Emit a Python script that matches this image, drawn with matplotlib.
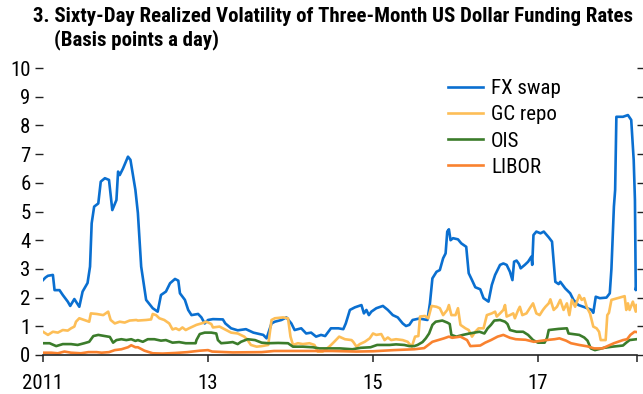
import matplotlib
matplotlib.use("Agg")
import matplotlib.pyplot as plt
from matplotlib import font_manager

# Condensed face for the text, falling back to a regular sans
names = {f.name for f in font_manager.fontManager.ttflist}
family = [n for n in ["Liberation Sans Narrow", "Roboto Condensed", "Liberation Sans"] if n in names] + ["DejaVu Sans"]
plt.rcParams["font.family"] = family

# ---- data (decimal years, basis points a day) ----
fx_t = [2011.00, 2011.03, 2011.06, 2011.12, 2011.14, 2011.20, 2011.24, 2011.30, 2011.33, 2011.38,
        2011.44, 2011.48, 2011.54, 2011.57, 2011.59, 2011.62, 2011.67, 2011.70, 2011.75, 2011.80,
        2011.84, 2011.89, 2011.91, 2011.93, 2011.97, 2012.03, 2012.06, 2012.12, 2012.15, 2012.19,
        2012.25, 2012.33, 2012.39, 2012.43, 2012.49, 2012.54, 2012.60, 2012.64, 2012.66, 2012.72,
        2012.76, 2012.80, 2012.88, 2012.92, 2012.96, 2013.00, 2013.06, 2013.18, 2013.21, 2013.28,
        2013.36, 2013.46, 2013.55, 2013.67, 2013.71, 2013.77, 2013.81, 2013.89, 2013.95, 2014.01,
        2014.05, 2014.13, 2014.19, 2014.25, 2014.31, 2014.37, 2014.42, 2014.49, 2014.58, 2014.64,
        2014.67, 2014.72, 2014.78, 2014.86, 2014.89, 2014.92, 2014.95, 2014.98, 2015.04, 2015.12,
        2015.18, 2015.24, 2015.30, 2015.36, 2015.40, 2015.44, 2015.48, 2015.56, 2015.66, 2015.69,
        2015.72, 2015.77, 2015.81, 2015.85, 2015.88, 2015.90, 2015.92, 2015.94, 2015.97, 2016.03,
        2016.07, 2016.13, 2016.16, 2016.20, 2016.24, 2016.30, 2016.34, 2016.40, 2016.44, 2016.48,
        2016.54, 2016.58, 2016.62, 2016.66, 2016.69, 2016.71, 2016.74, 2016.77, 2016.79, 2016.84,
        2016.88, 2016.92, 2016.93, 2016.945, 2016.98, 2017.03, 2017.07, 2017.13, 2017.17, 2017.19,
        2017.21, 2017.25, 2017.27, 2017.33, 2017.39, 2017.43, 2017.49, 2017.57, 2017.65, 2017.67,
        2017.70, 2017.75, 2017.83, 2017.87, 2017.89, 2017.92, 2017.935, 2017.95, 2018.03, 2018.09,
        2018.13, 2018.16, 2018.175, 2018.185, 2018.195]
fx_v = [2.61, 2.70, 2.76, 2.79, 2.26, 2.26, 2.09, 1.86, 1.71, 1.95,
        1.68, 2.21, 2.51, 3.08, 4.59, 5.17, 5.28, 6.04, 6.16, 6.10,
        5.05, 5.40, 6.39, 6.27, 6.50, 6.91, 6.80, 5.75, 4.95, 3.08,
        1.92, 1.63, 1.51, 2.09, 2.21, 2.50, 2.65, 2.59, 2.15, 1.92,
        1.57, 1.39, 1.43, 1.31, 1.10, 1.22, 1.25, 1.24, 1.10, 0.93,
        0.86, 0.90, 0.78, 0.70, 0.58, 1.10, 1.16, 1.22, 1.31, 1.10,
        0.87, 0.93, 0.75, 0.78, 0.64, 0.70, 0.66, 0.93, 0.93, 0.90,
        1.10, 1.57, 1.66, 1.74, 1.45, 1.57, 1.39, 1.51, 1.63, 1.71,
        1.57, 1.39, 1.31, 1.10, 1.01, 1.05, 1.22, 1.27, 1.22, 1.80,
        2.67, 2.90, 2.96, 3.37, 3.54, 4.30, 4.38, 4.00, 4.07, 4.03,
        3.89, 3.77, 2.85, 2.61, 2.36, 2.29, 1.98, 1.86, 2.44, 2.79,
        3.14, 3.19, 3.14, 2.90, 2.61, 3.25, 3.29, 3.17, 3.02, 3.14,
        3.25, 3.43, 3.14, 4.18, 4.30, 4.24, 4.30, 4.10, 3.95, 3.25,
        2.55, 2.47, 2.55, 2.32, 2.15, 1.92, 1.74, 1.66, 1.57, 1.47,
        2.03, 1.98, 2.00, 2.15, 3.00, 5.17, 5.75, 8.30, 8.30, 8.36,
        8.19, 6.79, 5.40, 2.26, 2.44]

repo_t = [2011.00, 2011.06, 2011.12, 2011.18, 2011.24, 2011.30, 2011.34, 2011.38, 2011.40, 2011.44,
          2011.50, 2011.56, 2011.58, 2011.65, 2011.73, 2011.79, 2011.82, 2011.87, 2011.93, 2011.99,
          2012.05, 2012.13, 2012.15, 2012.25, 2012.31, 2012.33, 2012.37, 2012.41, 2012.47, 2012.53,
          2012.57, 2012.61, 2012.65, 2012.69, 2012.73, 2012.77, 2012.86, 2012.92, 2012.98, 2013.04,
          2013.06, 2013.14, 2013.22, 2013.28, 2013.36, 2013.44, 2013.48, 2013.52, 2013.59, 2013.65,
          2013.73, 2013.77, 2013.81, 2013.91, 2013.97, 2014.00, 2014.03, 2014.09, 2014.15, 2014.23,
          2014.29, 2014.33, 2014.39, 2014.43, 2014.47, 2014.53, 2014.59, 2014.66, 2014.74, 2014.76,
          2014.80, 2014.84, 2014.90, 2014.96, 2015.00, 2015.04, 2015.10, 2015.14, 2015.18, 2015.22,
          2015.28, 2015.36, 2015.42, 2015.47, 2015.51, 2015.55, 2015.57, 2015.63, 2015.67, 2015.71,
          2015.77, 2015.81, 2015.85, 2015.90, 2015.92, 2015.95, 2016.00, 2016.03, 2016.06, 2016.12,
          2016.16, 2016.20, 2016.24, 2016.28, 2016.34, 2016.38, 2016.44, 2016.48, 2016.50, 2016.54,
          2016.58, 2016.60, 2016.62, 2016.66, 2016.70, 2016.72, 2016.76, 2016.78, 2016.81, 2016.86,
          2016.90, 2016.94, 2016.98, 2017.02, 2017.06, 2017.09, 2017.13, 2017.15, 2017.19, 2017.23,
          2017.27, 2017.31, 2017.35, 2017.38, 2017.41, 2017.45, 2017.50, 2017.53, 2017.56, 2017.59,
          2017.63, 2017.67, 2017.71, 2017.74, 2017.76, 2017.82, 2017.84, 2017.86, 2017.89, 2017.99,
          2018.05, 2018.07, 2018.09, 2018.11, 2018.15, 2018.185, 2018.195]
repo_v = [0.81, 0.70, 0.81, 0.78, 0.87, 0.85, 0.93, 0.99, 1.16, 1.28,
          1.22, 1.16, 1.45, 1.43, 1.39, 1.51, 1.22, 1.10, 1.16, 1.13,
          1.20, 1.22, 1.20, 1.22, 1.24, 1.43, 1.39, 1.28, 1.22, 1.10,
          0.89, 0.93, 0.87, 0.96, 0.87, 0.93, 1.05, 1.10, 1.16, 1.08,
          0.96, 0.99, 0.87, 0.78, 0.75, 0.64, 0.52, 0.35, 0.29, 0.31,
          0.35, 1.22, 1.28, 1.31, 1.28, 0.64, 0.35, 0.41, 0.38, 0.41,
          0.35, 0.12, 0.12, 0.20, 0.29, 0.46, 0.64, 0.55, 0.52, 0.46,
          0.29, 0.38, 0.46, 0.58, 0.75, 0.70, 0.73, 0.52, 0.61, 0.52,
          0.55, 0.52, 0.46, 0.29, 0.64, 0.66, 1.34, 1.36, 1.28, 1.71,
          1.68, 1.63, 1.39, 1.57, 1.74, 1.39, 1.39, 1.63, 1.05, 0.93,
          0.87, 0.64, 0.81, 0.93, 0.93, 1.39, 1.45, 1.51, 1.34, 1.45,
          1.57, 1.74, 1.34, 1.39, 1.45, 1.28, 1.57, 1.68, 1.39, 1.45,
          1.63, 1.80, 1.45, 1.39, 1.57, 1.68, 1.80, 1.94, 1.57, 1.68,
          1.92, 1.57, 1.80, 1.39, 1.92, 1.68, 2.09, 1.92, 1.98, 1.68,
          1.45, 0.99, 0.93, 0.81, 0.52, 0.52, 1.39, 1.47, 1.92, 2.00,
          2.05, 1.57, 1.80, 1.57, 1.86, 1.51, 1.74]

ois_t = [2011.00, 2011.08, 2011.16, 2011.24, 2011.34, 2011.42, 2011.50, 2011.56, 2011.61, 2011.67,
         2011.75, 2011.81, 2011.85, 2011.89, 2011.95, 2012.01, 2012.07, 2012.12, 2012.15, 2012.21,
         2012.27, 2012.35, 2012.43, 2012.49, 2012.57, 2012.65, 2012.73, 2012.85, 2012.86, 2012.90,
         2012.96, 2013.04, 2013.10, 2013.12, 2013.16, 2013.24, 2013.30, 2013.36, 2013.40, 2013.48,
         2013.57, 2013.65, 2013.73, 2013.85, 2013.97, 2014.03, 2014.15, 2014.27, 2014.35, 2014.50,
         2014.60, 2014.75, 2014.85, 2014.97, 2015.05, 2015.20, 2015.28, 2015.38, 2015.44, 2015.50,
         2015.54, 2015.60, 2015.64, 2015.68, 2015.72, 2015.76, 2015.84, 2015.90, 2015.93, 2015.95,
         2016.01, 2016.09, 2016.17, 2016.29, 2016.35, 2016.39, 2016.43, 2016.47, 2016.54, 2016.60,
         2016.63, 2016.66, 2016.74, 2016.82, 2016.88, 2016.94, 2017.00, 2017.08, 2017.11, 2017.13,
         2017.25, 2017.35, 2017.37, 2017.50, 2017.56, 2017.60, 2017.64, 2017.69, 2017.80, 2017.90,
         2018.03, 2018.07, 2018.11, 2018.195]
ois_v = [0.41, 0.41, 0.31, 0.38, 0.38, 0.35, 0.41, 0.46, 0.66, 0.70,
         0.66, 0.63, 0.43, 0.52, 0.55, 0.52, 0.55, 0.49, 0.52, 0.46,
         0.55, 0.55, 0.50, 0.52, 0.43, 0.45, 0.41, 0.41, 0.52, 0.73,
         0.78, 0.78, 0.75, 0.52, 0.41, 0.43, 0.45, 0.38, 0.46, 0.55,
         0.52, 0.43, 0.41, 0.42, 0.41, 0.29, 0.29, 0.27, 0.23, 0.23,
         0.23, 0.20, 0.25, 0.27, 0.35, 0.35, 0.37, 0.35, 0.31, 0.31,
         0.35, 0.45, 0.58, 0.75, 1.05, 1.16, 1.20, 1.13, 1.08, 0.70,
         0.64, 0.70, 0.75, 0.81, 0.75, 0.93, 1.05, 1.20, 1.22, 1.16,
         1.08, 0.87, 0.81, 0.81, 0.70, 0.52, 0.43, 0.43, 0.60, 0.87,
         0.91, 0.93, 0.75, 0.70, 0.61, 0.50, 0.23, 0.17, 0.25, 0.29,
         0.33, 0.43, 0.52, 0.55]

libor_t = [2011.00, 2011.10, 2011.18, 2011.26, 2011.34, 2011.46, 2011.55, 2011.65, 2011.71, 2011.80,
           2011.87, 2011.95, 2012.03, 2012.07, 2012.12, 2012.15, 2012.23, 2012.33, 2012.45, 2012.60,
           2012.75, 2012.90, 2013.00, 2013.05, 2013.30, 2013.65, 2013.80, 2014.10, 2014.50, 2014.80,
           2015.00, 2015.25, 2015.50, 2015.62, 2015.67, 2015.72, 2015.86, 2015.92, 2015.96, 2016.06,
           2016.14, 2016.18, 2016.30, 2016.36, 2016.43, 2016.51, 2016.58, 2016.66, 2016.73, 2016.85,
           2016.95, 2017.10, 2017.20, 2017.26, 2017.34, 2017.40, 2017.50, 2017.60, 2017.68, 2017.78,
           2017.92, 2018.03, 2018.08, 2018.12, 2018.17, 2018.195]
libor_v = [0.08, 0.08, 0.06, 0.12, 0.08, 0.06, 0.10, 0.10, 0.08, 0.10,
           0.17, 0.20, 0.27, 0.34, 0.27, 0.27, 0.15, 0.06, 0.05, 0.07,
           0.10, 0.15, 0.17, 0.12, 0.09, 0.10, 0.14, 0.14, 0.14, 0.12,
           0.13, 0.17, 0.20, 0.24, 0.35, 0.46, 0.58, 0.64, 0.60, 0.64,
           0.52, 0.31, 0.33, 0.43, 0.52, 0.64, 0.70, 0.60, 0.55, 0.53,
           0.46, 0.52, 0.55, 0.58, 0.50, 0.41, 0.35, 0.30, 0.23, 0.23,
           0.41, 0.52, 0.55, 0.70, 0.81, 0.80]

series_names = ["FX swap", "GC repo", "OIS", "LIBOR"]
series_colors = ["#0A6FD0", "#FDBE57", "#3B7C2B", "#F9822F"]

xtick_pos = [2011, 2013, 2015, 2017]
xtick_labels = ["2011", "13", "15", "17"]
ytick_pos = list(range(0, 11))

# ---- figure ----
W, H = 643, 394
fig = plt.figure(figsize=(W / 100, H / 100), dpi=100)
ax = fig.add_axes([43 / W, 1 - 355 / H, (637 - 43) / W, (355 - 68) / H])

for (t, v), name, col in zip([(fx_t, fx_v), (repo_t, repo_v), (ois_t, ois_v), (libor_t, libor_v)],
                             series_names, series_colors):
    ax.plot(t, v, color=col, lw=1.9, label=name, solid_joinstyle="round")

ax.set_xlim(2011.0, 2018.2)
ax.set_ylim(0, 10)

for s in ["top", "left", "right"]:
    ax.spines[s].set_visible(False)
ax.spines["bottom"].set_color("#222222")
ax.spines["bottom"].set_linewidth(1.2)

ax.set_xticks(xtick_pos + [2018.2])
ax.set_xticklabels(xtick_labels + [""])
ax.set_yticks(ytick_pos)
ax.set_yticklabels([str(v) for v in ytick_pos])
ax.tick_params(axis="x", direction="out", length=5, width=1.1, color="#222222",
               labelsize=15, pad=9)
ax.tick_params(axis="y", direction="out", length=6, width=1.0, color="#222222",
               labelsize=15, pad=3, right=True, labelright=False)

leg = ax.legend(loc="upper left", bbox_to_anchor=((440 - 43) / (637 - 43), 1 - (71 - 68) / (355 - 68)),
                frameon=False, fontsize=15, handlelength=1.65, handletextpad=0.4,
                labelspacing=0.34, borderaxespad=0)

fig.text(33 / W, 1 - 22 / H, "3. Sixty-Day Realized Volatility of Three-Month US Dollar Funding Rates",
         fontsize=15, fontweight="bold", ha="left", va="baseline")
fig.text(54 / W, 1 - 45 / H, "(Basis points a day)", fontsize=15, fontweight="bold",
         ha="left", va="baseline")

fig.savefig("out.png", dpi=100)
